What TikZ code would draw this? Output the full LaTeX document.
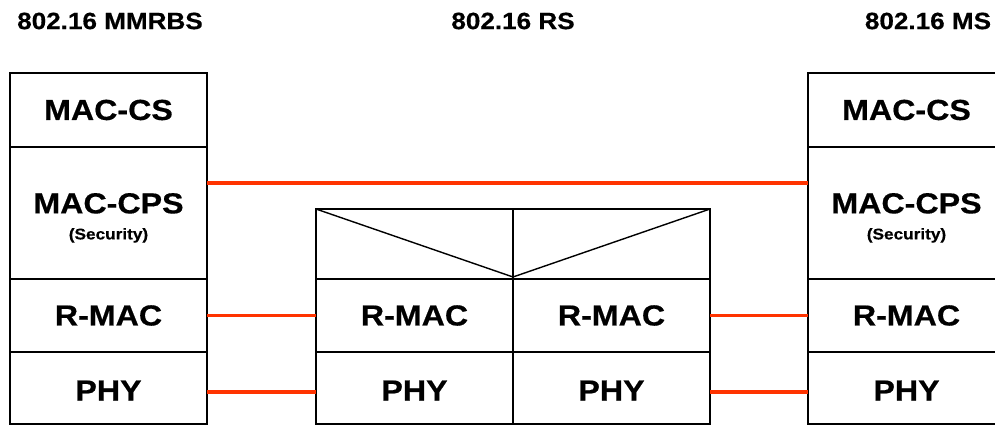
\documentclass[tikz,border=0pt]{standalone}
\usepackage{fontspec}
\setmainfont{Liberation Sans}[FakeStretch=1.11,BoldFeatures={FakeBold=0.5}]
\usetikzlibrary{positioning,calc}
\definecolor{linkred}{RGB}{255,51,0}
\tikzset{
  cell/.style={rectangle,draw,line width=1.7pt,inner sep=0pt,outer sep=0pt,
               minimum width=197pt,align=center,font=\fontsize{29}{31}\selectfont\bfseries},
  title/.style={inner sep=0pt,font=\fontsize{23.5}{25}\selectfont\bfseries},
  link/.style={draw=linkred,line width=3.6pt},
  every picture/.style={line cap=butt,line join=miter}}
\newcommand{\secnote}{\\[-5pt]{\fontsize{15.5}{17}\selectfont(Security)}}

\begin{document}
\begin{tikzpicture}[x=1pt,y=-1pt]
  \clip (0,0) rectangle (995,428);
  % titles
  \node[title] (tbs) at (110,21){802.16 MMRBS};
  \node[title] (trs) at (513,21){802.16 RS};
  \node[title] (tms) at (928,21){802.16 MS};
  % base station stack
  \node[cell,minimum height=74pt] (lcs) at (108.5,110){MAC-CS};
  \node[cell,minimum height=132pt,below=0pt of lcs] (lcps){\rule{0pt}{30pt}MAC-CPS\secnote};
  \node[cell,minimum height=73pt,below=0pt of lcps] (lrmac){R-MAC};
  \node[cell,minimum height=72pt,below=0pt of lrmac] (lphy){\rule{0pt}{25pt}PHY};
  % mobile station stack
  \node[cell,minimum height=74pt] (rcs) at (906.5,110){MAC-CS};
  \node[cell,minimum height=132pt,below=0pt of rcs] (rcps){\rule{0pt}{30pt}MAC-CPS\secnote};
  \node[cell,minimum height=73pt,below=0pt of rcps] (rrmac){R-MAC};
  \node[cell,minimum height=72pt,below=0pt of rrmac] (rphy){\rule{0pt}{25pt}PHY};
  % relay station
  \node[cell,minimum height=70pt] (mtl) at (414.5,244){};
  \node[cell,minimum height=70pt,right=0pt of mtl] (mtr){};
  \node[cell,minimum height=73pt,below=0pt of mtl] (mrl){R-MAC};
  \node[cell,minimum height=73pt,below=0pt of mtr] (mrr){R-MAC};
  \node[cell,minimum height=72pt,below=0pt of mrl] (mpl){\rule{0pt}{25pt}PHY};
  \node[cell,minimum height=72pt,below=0pt of mrr] (mpr){\rule{0pt}{25pt}PHY};
  \draw[line width=1.4pt] (mtl.north west)--([yshift=2pt]mtl.south east)--(mtr.north east);
  % links
  \draw[link] ([yshift=-36pt]lcps.north east)--([yshift=-36pt]rcps.north west);
  \draw[link] (lrmac.east)--(mrl.west) (mrr.east)--(rrmac.west);
  \draw[link] ([yshift=-4pt]lphy.east)--([yshift=-4pt]mpl.west)
              ([yshift=-4pt]mpr.east)--([yshift=-4pt]rphy.west);
\end{tikzpicture}
\end{document}
